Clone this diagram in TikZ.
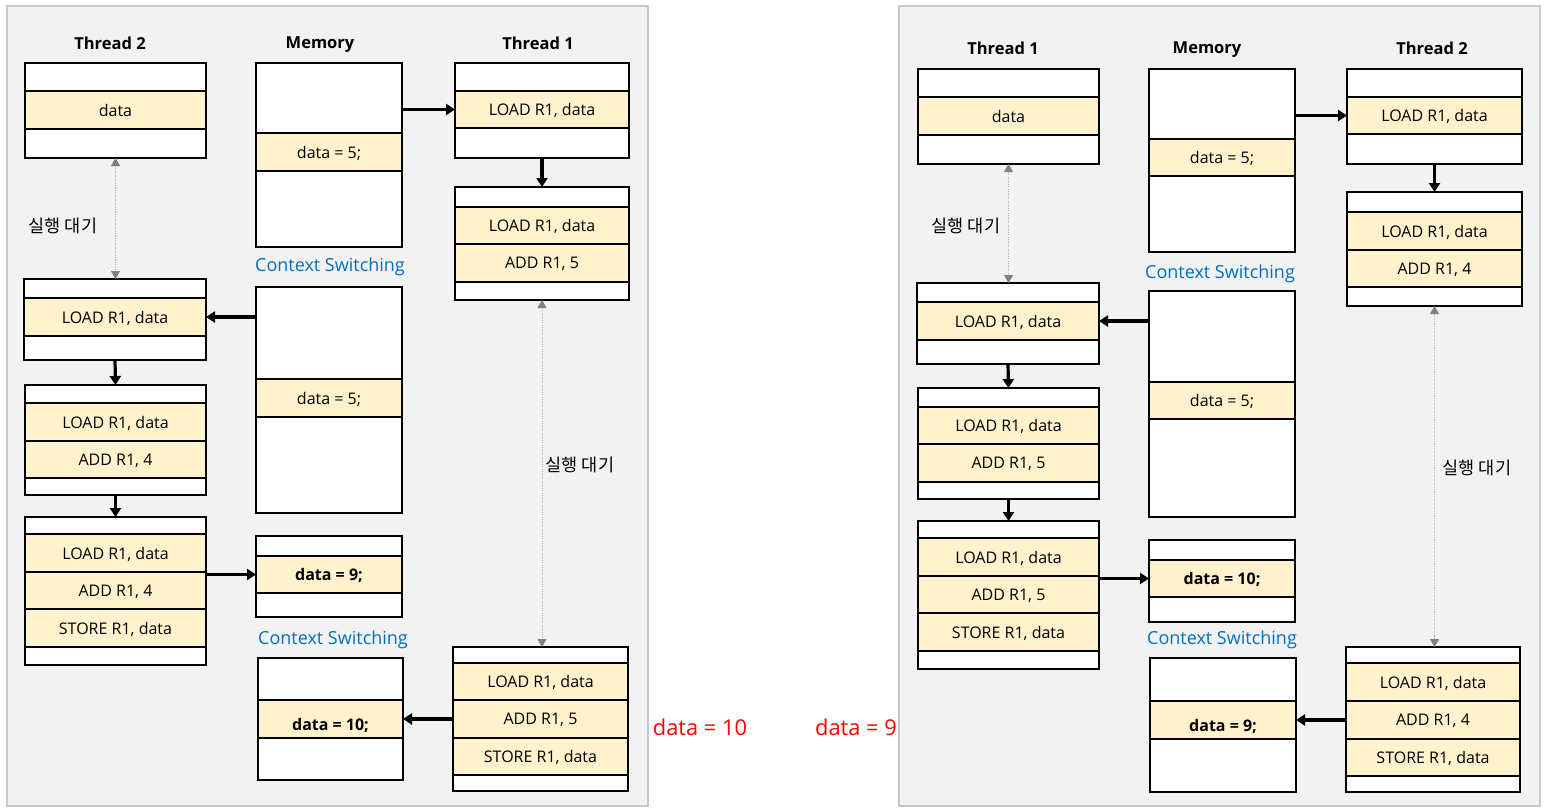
\documentclass[tikz,border=0pt]{standalone}
\usepackage{fontspec}
\setmainfont{Open Sans}
\newfontfamily\kr{Noto Sans CJK KR}
\usetikzlibrary{arrows.meta}

\definecolor{panelbg}{HTML}{F2F2F2}
\definecolor{panelline}{HTML}{C8C8C8}
\definecolor{cellyellow}{HTML}{FFF2CC}
\definecolor{csblue}{HTML}{0070C0}
\definecolor{waitline}{HTML}{B4B4B4}
\definecolor{waithead}{HTML}{808080}

% one row of a stacked memory/thread box: name, style, x1, x2, y1, y2, text
\newcommand\cellrow[7]{%
  \node[#2, minimum width={#4pt-#3pt}, minimum height={#6pt-#5pt}]
    (#1) at ({(#3+#4)/2},{(#5+#6)/2}) {#7};}

\tikzset{
  every node/.style={text depth=0pt},
  wrow/.style={draw=black, fill=white, line width=1.8pt, inner sep=0pt, outer sep=0pt},
  yrow/.style={wrow, fill=cellyellow},
  title/.style={font=\fontsize{16.5}{19}\selectfont\bfseries},
  cslabel/.style={text=csblue, font=\fontsize{18}{21}\selectfont},
  waitlabel/.style={font=\kr\fontsize{17.5}{20}\selectfont},
  result/.style={text=red, font=\fontsize{21.8}{25}\selectfont},
  boldval/.style={font=\bfseries},
  conn/.style={line width=3.2pt, -{Triangle[length=9pt,width=11pt]}},
  wait/.style={draw=waitline, line width=0.9pt, dash pattern=on 1.2pt off 1.2pt,
    {Triangle[length=8pt,width=9pt,color=waithead]}-{Triangle[length=8pt,width=9pt,color=waithead]}},
}

\begin{document}
\fontsize{16}{19}\selectfont
\begin{tikzpicture}[x=1pt, y=-1pt]
\useasboundingbox (0,0) rectangle (1552,811);
\fill[white] (0,0) rectangle (1552,811);

% panels
\draw[draw=panelline, fill=panelbg, line width=1.3pt] (7,6) rectangle (648,806);
\draw[draw=panelline, fill=panelbg, line width=1.3pt] (899,6) rectangle (1540,806);

% ===================== left panel =====================
\node[title] (Lh2) at (110,43) {Thread 2};
\node[title] (Lhm) at (320,43) {Memory};
\node[title] (Lh1) at (538,43) {Thread 1};

% thread 2, box A
\cellrow{La1}{wrow}{25}{206}{63}{91}{}
\cellrow{La2}{yrow}{25}{206}{91}{129}{data}
\cellrow{La3}{wrow}{25}{206}{129}{158}{}
% memory, box A
\cellrow{Lma1}{wrow}{256}{402}{63}{133}{}
\cellrow{Lma2}{yrow}{256}{402}{133}{171}{data = 5;}
\cellrow{Lma3}{wrow}{256}{402}{171}{247}{}
% thread 1, box A
\cellrow{Lta1}{wrow}{455}{629}{63}{91}{}
\cellrow{Lta2}{yrow}{455}{629}{91}{128}{LOAD R1, data}
\cellrow{Lta3}{wrow}{455}{629}{128}{158}{}
% thread 1, box B
\cellrow{Ltb1}{wrow}{455}{629}{187}{207}{}
\cellrow{Ltb2}{yrow}{455}{629}{207}{244}{LOAD R1, data}
\cellrow{Ltb3}{yrow}{455}{629}{244}{282}{ADD R1, 5}
\cellrow{Ltb4}{wrow}{455}{629}{282}{300}{}
% thread 2, box B
\cellrow{Lb1}{wrow}{24}{206}{279}{298}{}
\cellrow{Lb2}{yrow}{24}{206}{298}{336}{LOAD R1, data}
\cellrow{Lb3}{wrow}{24}{206}{336}{360}{}
% memory, box B
\cellrow{Lmb1}{wrow}{256}{402}{287}{379}{}
\cellrow{Lmb2}{yrow}{256}{402}{379}{417}{data = 5;}
\cellrow{Lmb3}{wrow}{256}{402}{417}{513}{}
% thread 2, box C
\cellrow{Lc1}{wrow}{25}{206}{385}{403}{}
\cellrow{Lc2}{yrow}{25}{206}{403}{441}{LOAD R1, data}
\cellrow{Lc3}{yrow}{25}{206}{441}{478}{ADD R1, 4}
\cellrow{Lc4}{wrow}{25}{206}{478}{495}{}
% thread 2, box D
\cellrow{Ld1}{wrow}{25}{206}{517}{534}{}
\cellrow{Ld2}{yrow}{25}{206}{534}{572}{LOAD R1, data}
\cellrow{Ld3}{yrow}{25}{206}{572}{609}{ADD R1, 4}
\cellrow{Ld4}{yrow}{25}{206}{609}{647}{STORE R1, data}
\cellrow{Ld5}{wrow}{25}{206}{647}{665}{}
% memory, box C
\cellrow{Lmc1}{wrow}{256}{402}{536}{556}{}
\cellrow{Lmc2}{yrow,boldval}{256}{402}{556}{593}{data = 9;}
\cellrow{Lmc3}{wrow}{256}{402}{593}{617}{}
% memory, box D
\cellrow{Lmd1}{wrow}{258}{403}{658}{700}{}
\cellrow{Lmd2}{yrow}{258}{403}{700}{738}{}
\cellrow{Lmd3}{wrow}{258}{403}{738}{780}{}
\node[boldval] (Lmdt) at (330.5,724.5) {data = 10;};
% thread 1, box C
\cellrow{Ltc1}{wrow}{453}{628}{647}{663}{}
\cellrow{Ltc2}{yrow}{453}{628}{663}{700}{LOAD R1, data}
\cellrow{Ltc3}{yrow}{453}{628}{700}{738}{ADD R1, 5}
\cellrow{Ltc4}{yrow}{453}{628}{738}{775}{STORE R1, data}
\cellrow{Ltc5}{wrow}{453}{628}{775}{791}{}

\node[cslabel] (Lcs1) at (330,265) {Context Switching};
\node[cslabel] (Lcs2) at (333,638) {Context Switching};
\node[waitlabel] (Lw2) at (63,225) {실행 대기};
\node[waitlabel] (Lw1) at (580,464) {실행 대기};
\node[result] (Lres) at (700,727) {data = 10};

\draw[conn] (Lma1.east |- Lta2.west) -- (Lta2.west);
\draw[conn] (Lta3.south) -- (Ltb1.north);
\draw[conn] (Lmb1.west |- Lb2.east) -- (Lb2.east);
\draw[conn] (Lb3.south) -- (Lc1.north);
\draw[conn] (Lc4.south) -- (Ld1.north);
\draw[conn] (Ld2.east |- Lmc2.west) -- (Lmc2.west);
\draw[conn] (Ltc3.west) -- (Lmd2.east |- Ltc3.west);
\draw[wait] (La3.south) -- (La3.south |- Lb1.north);
\draw[wait] (Ltb4.south) -- (Ltb4.south |- Ltc1.north);

% ===================== right panel =====================
\node[title] (Rh1) at (1003,48) {Thread 1};
\node[title] (Rhm) at (1207,48) {Memory};
\node[title] (Rh2) at (1432,48) {Thread 2};

% thread 1, box A
\cellrow{Ra1}{wrow}{918}{1099}{69}{97}{}
\cellrow{Ra2}{yrow}{918}{1099}{97}{135}{data}
\cellrow{Ra3}{wrow}{918}{1099}{135}{164}{}
% memory, box A
\cellrow{Rma1}{wrow}{1149}{1295}{69}{139}{}
\cellrow{Rma2}{yrow}{1149}{1295}{139}{176}{data = 5;}
\cellrow{Rma3}{wrow}{1149}{1295}{176}{252}{}
% thread 2, box A
\cellrow{Rta1}{wrow}{1347}{1522}{69}{97}{}
\cellrow{Rta2}{yrow}{1347}{1522}{97}{134}{LOAD R1, data}
\cellrow{Rta3}{wrow}{1347}{1522}{134}{164}{}
% thread 2, box B
\cellrow{Rtb1}{wrow}{1347}{1522}{192}{212}{}
\cellrow{Rtb2}{yrow}{1347}{1522}{212}{250}{LOAD R1, data}
\cellrow{Rtb3}{yrow}{1347}{1522}{250}{287}{ADD R1, 4}
\cellrow{Rtb4}{wrow}{1347}{1522}{287}{306}{}
% thread 1, box B
\cellrow{Rb1}{wrow}{917}{1099}{283}{302}{}
\cellrow{Rb2}{yrow}{917}{1099}{302}{340}{LOAD R1, data}
\cellrow{Rb3}{wrow}{917}{1099}{340}{364}{}
% memory, box B
\cellrow{Rmb1}{wrow}{1149}{1295}{291}{382}{}
\cellrow{Rmb2}{yrow}{1149}{1295}{382}{419}{data = 5;}
\cellrow{Rmb3}{wrow}{1149}{1295}{419}{517}{}
% thread 1, box C
\cellrow{Rc1}{wrow}{918}{1099}{388}{407}{}
\cellrow{Rc2}{yrow}{918}{1099}{407}{444}{LOAD R1, data}
\cellrow{Rc3}{yrow}{918}{1099}{444}{482}{ADD R1, 5}
\cellrow{Rc4}{wrow}{918}{1099}{482}{499}{}
% thread 1, box D
\cellrow{Rd1}{wrow}{918}{1099}{521}{538}{}
\cellrow{Rd2}{yrow}{918}{1099}{538}{576}{LOAD R1, data}
\cellrow{Rd3}{yrow}{918}{1099}{576}{613}{ADD R1, 5}
\cellrow{Rd4}{yrow}{918}{1099}{613}{651}{STORE R1, data}
\cellrow{Rd5}{wrow}{918}{1099}{651}{669}{}
% memory, box C
\cellrow{Rmc1}{wrow}{1149}{1295}{540}{560}{}
\cellrow{Rmc2}{yrow,boldval}{1149}{1295}{560}{597}{data = 10;}
\cellrow{Rmc3}{wrow}{1149}{1295}{597}{622}{}
% memory, box D
\cellrow{Rmd1}{wrow}{1150}{1296}{658}{701}{}
\cellrow{Rmd2}{yrow}{1150}{1296}{701}{739}{}
\cellrow{Rmd3}{wrow}{1150}{1296}{739}{792}{}
\node[boldval] (Rmdt) at (1223,725) {data = 9;};
% thread 2, box C
\cellrow{Rtc1}{wrow}{1346}{1520}{647}{663}{}
\cellrow{Rtc2}{yrow}{1346}{1520}{663}{701}{LOAD R1, data}
\cellrow{Rtc3}{yrow}{1346}{1520}{701}{739}{ADD R1, 4}
\cellrow{Rtc4}{yrow}{1346}{1520}{739}{776}{STORE R1, data}
\cellrow{Rtc5}{wrow}{1346}{1520}{776}{792}{}

\node[cslabel] (Rcs1) at (1220,272) {Context Switching};
\node[cslabel] (Rcs2) at (1222,638) {Context Switching};
\node[waitlabel] (Rw1) at (966,225) {실행 대기};
\node[waitlabel] (Rw2) at (1477,467) {실행 대기};
\node[result] (Rres) at (856,727) {data = 9};

\draw[conn] (Rma1.east |- Rta2.west) -- (Rta2.west);
\draw[conn] (Rta3.south) -- (Rtb1.north);
\draw[conn] (Rmb1.west |- Rb2.east) -- (Rb2.east);
\draw[conn] (Rb3.south) -- (Rc1.north);
\draw[conn] (Rc4.south) -- (Rd1.north);
\draw[conn] (Rd2.east |- Rmc2.west) -- (Rmc2.west);
\draw[conn] (Rtc3.west) -- (Rmd2.east |- Rtc3.west);
\draw[wait] (Ra3.south) -- (Ra3.south |- Rb1.north);
\draw[wait] (Rtb4.south) -- (Rtb4.south |- Rtc1.north);
\end{tikzpicture}
\end{document}
